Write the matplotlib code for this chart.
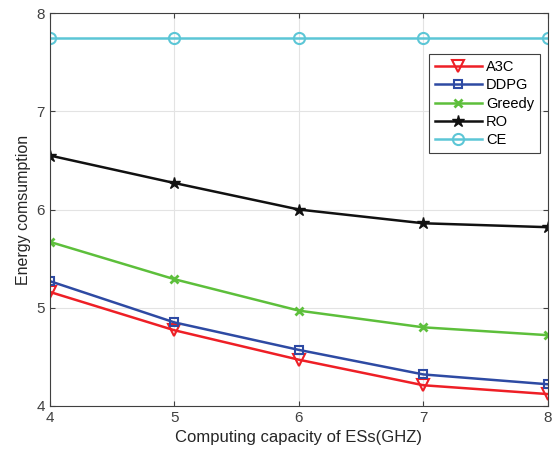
import matplotlib
matplotlib.use('Agg')
import matplotlib.pyplot as plt

plt.rcParams['font.family'] = ['Liberation Sans', 'DejaVu Sans']

# Data
capacity = [4, 5, 6, 7, 8]
a3c = [5.16, 4.77, 4.47, 4.21, 4.12]
ddpg = [5.27, 4.85, 4.57, 4.32, 4.22]
greedy = [5.67, 5.29, 4.97, 4.80, 4.72]
ro = [6.55, 6.27, 6.00, 5.86, 5.82]
ce = [7.75, 7.75, 7.75, 7.75, 7.75]

fig = plt.figure(figsize=(5.59, 4.55), dpi=100)
ax = fig.add_axes([0.0894, 0.108, 0.8906, 0.863])

ax.plot(capacity, a3c, color='#ee1f26', lw=1.8, marker='v', ms=8, mfc='none', mew=1.5, label='A3C')
ax.plot(capacity, ddpg, color='#2e4aa3', lw=1.8, marker='s', ms=6, mfc='none', mew=1.5, label='DDPG')
ax.plot(capacity, greedy, color='#5dbf3b', lw=1.8, marker='x', ms=6, mew=2, label='Greedy')
ax.plot(capacity, ro, color='#111111', lw=1.8, marker='*', ms=9, mew=1, label='RO')
ax.plot(capacity, ce, color='#5cc6d6', lw=1.8, marker='o', ms=8, mfc='none', mew=1.5, label='CE')

ax.set_xlim(4, 8)
ax.set_ylim(4, 8)
ax.set_xticks([4, 5, 6, 7, 8])
ax.set_yticks([4, 5, 6, 7, 8])
ax.grid(True, color='#e3e3e3', lw=0.8)
ax.set_axisbelow(True)
ax.tick_params(direction='in', top=True, right=True, labelsize=11, colors='#404040')
for s in ax.spines.values():
    s.set_color('#404040')
    s.set_linewidth(0.8)

ax.set_xlabel('Computing capacity of ESs(GHZ)', fontsize=12, color='#262626')
ax.set_ylabel('Energy comsumption', fontsize=11.5, color='#262626')

leg = ax.legend(loc='upper right', bbox_to_anchor=(0.984, 0.896), borderaxespad=0,
                fontsize=10.5, fancybox=False, edgecolor='#404040', framealpha=1,
                handlelength=3.2, handletextpad=0.3, borderpad=0.4, labelspacing=0.3)
leg.get_frame().set_linewidth(0.8)

fig.savefig('out.png', dpi=100)
